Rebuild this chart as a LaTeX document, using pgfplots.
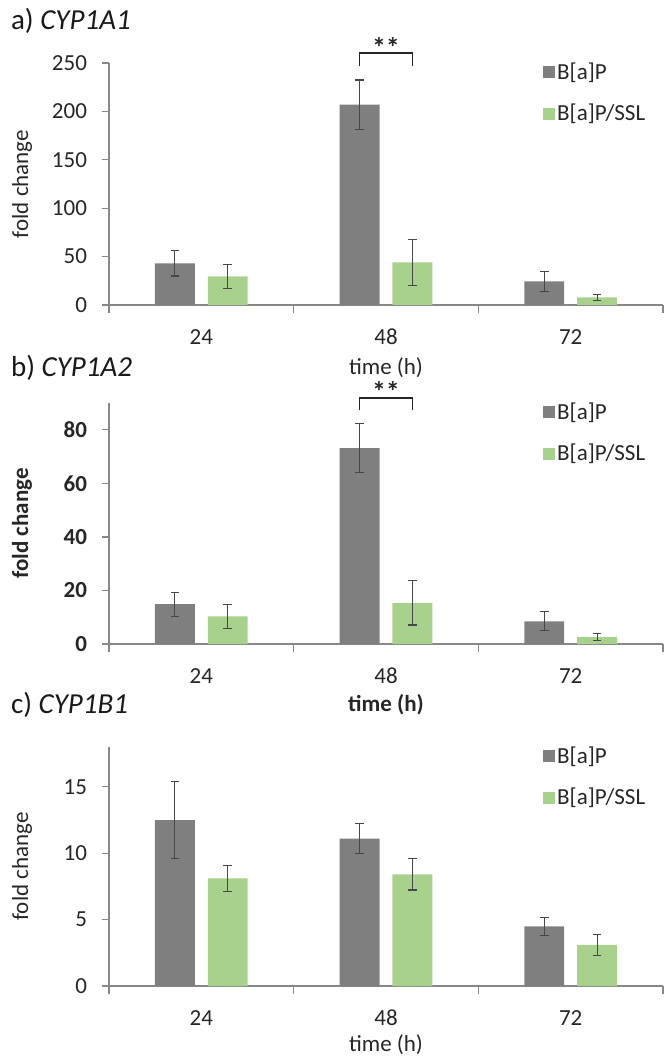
\documentclass[border=0pt]{standalone}
\usepackage{fontspec}
\setmainfont{Carlito}
\usepackage{pgfplots}
\usepackage{pgfplotstable}
\pgfplotsset{compat=1.18}

\definecolor{bargray}{HTML}{7F7F7F}
\definecolor{bargreen}{HTML}{A9D18E}
\definecolor{axisgray}{HTML}{878787}
\definecolor{errgray}{HTML}{474747}

% x = time point index (24, 48, 72 h), y = fold change, e = error
\pgfplotstableread{
x y e
0 43 13
1 207 25.5
2 24.5 10.2
}\aGray
\pgfplotstableread{
x y e
0 29.5 12.8
1 44 23.4
2 8 3.3
}\aGreen
\pgfplotstableread{
x y e
0 14.9 4.5
1 73.2 9.1
2 8.5 3.6
}\bGray
\pgfplotstableread{
x y e
0 10.3 4.55
1 15.4 8.3
2 2.6 1.25
}\bGreen
\pgfplotstableread{
x y e
0 12.5 2.87
1 11.1 1.15
2 4.5 0.69
}\cGray
\pgfplotstableread{
x y e
0 8.1 0.97
1 8.4 1.17
2 3.1 0.78
}\cGreen

\newcommand{\lblfont}{\fontsize{11.5}{13}\selectfont}

\pgfplotsset{
  panel/.style={
    scale only axis, width=277pt,
    xmin=-0.5, xmax=2.5, ymin=0,
    axis lines*=left,
    axis line style={axisgray, line width=0.65pt},
    xtick={0,1,2}, xticklabels={24,48,72},
    minor xtick={-0.5,0.5,1.5,2.5},
    major x tick style={draw=none},
    minor x tick style={axisgray, line width=0.65pt},
    y tick style={axisgray, line width=0.65pt},
    tick align=outside, major tick length=3.5pt, minor tick length=4pt,
    xticklabel shift=5pt, yticklabel shift=4pt,
    ticklabel style={font=\lblfont, text=black!85},
    label style={font=\lblfont, text=black!85},
    /pgf/number format/assume math mode=true,
    ylabel={fold change},
    ylabel style={at={(axis description cs:-0.157,0.5)}, anchor=center},
    xlabel={time (h)},
    legend style={draw=none, fill=none, at={(0.783,1.0)}, anchor=north west,
      yshift=1.5pt, inner sep=0pt, row sep=9pt, font=\lblfont,
      nodes={inner sep=1pt, text=black!85}},
    legend cell align=left,
    clip=false,
  },
  errs/.style={
    error bars/y dir=both, error bars/y explicit,
    error bars/error bar style={errgray, line width=0.55pt},
    error bars/error mark options={errgray, line width=0.55pt, mark size=2.2pt, rotate=90}},
  gbar/.style={ybar, bar width=0.216, bar shift=0pt, fill=bargray, draw=none, errs,
    legend image code/.code={\fill[bargray] (0pt,-3pt) rectangle (6pt,3pt);}},
  vbar/.style={ybar, bar width=0.216, bar shift=0pt, fill=bargreen, draw=none, errs,
    legend image code/.code={\fill[bargreen] (0pt,-3pt) rectangle (6pt,3pt);}},
}

\begin{document}
\begin{tikzpicture}
\useasboundingbox (0,0) rectangle (333pt,-531pt);

% a) CYP1A1
\node[anchor=west, font=\fontsize{14.5}{16}\selectfont, text=black!90] at (2pt,-10.5pt) {a) \textit{CYP1A1}};
\begin{axis}[panel, at={(54.5pt,-152.5pt)}, anchor=south west, height=121pt,
    ymax=250, ytick={0,50,...,250},
    xlabel style={at={(axis description cs:0.5,-0.26)}, anchor=center}]
  \addplot[gbar] table[x expr=\thisrow{x}-0.143, y=y, y error=e] {\aGray};
  \addplot[vbar] table[x expr=\thisrow{x}+0.143, y=y, y error=e] {\aGreen};
  \legend{B[a]P, B[a]P/SSL}
  \draw[black!85, line width=0.6pt] (axis cs:0.857,247) |- (axis cs:1.143,260.3) -- (axis cs:1.143,247);
  \node[font=\fontsize{14}{16}\selectfont\bfseries, text=black!85] at (axis cs:1,266.5) {**};
\end{axis}

% b) CYP1A2
\node[anchor=west, font=\fontsize{14.5}{16}\selectfont, text=black!90] at (2pt,-184pt) {b) \textit{CYP1A2}};
\begin{axis}[panel, at={(54.5pt,-322pt)}, anchor=south west, height=120.5pt,
    ymax=90, ytick={0,20,...,80},
    yticklabel style={font=\lblfont\bfseries},
    ylabel style={font=\lblfont\bfseries},
    xlabel style={at={(axis description cs:0.5,-0.253)}, anchor=center, font=\lblfont\bfseries}]
  \addplot[gbar] table[x expr=\thisrow{x}-0.143, y=y, y error=e] {\bGray};
  \addplot[vbar] table[x expr=\thisrow{x}+0.143, y=y, y error=e] {\bGreen};
  \legend{B[a]P, B[a]P/SSL}
  \draw[black!85, line width=0.6pt] (axis cs:0.857,87.4) |- (axis cs:1.143,91.9) -- (axis cs:1.143,87.4);
  \node[font=\fontsize{14}{16}\selectfont\bfseries, text=black!85] at (axis cs:1,94.3) {**};
\end{axis}

% c) CYP1B1
\node[anchor=west, font=\fontsize{14.5}{16}\selectfont, text=black!90] at (2pt,-352.5pt) {c) \textit{CYP1B1}};
\begin{axis}[panel, at={(54.5pt,-493pt)}, anchor=south west, height=119.5pt,
    ymax=18, ytick={0,5,10,15},
    xlabel style={at={(axis description cs:0.5,-0.247)}, anchor=center}]
  \addplot[gbar] table[x expr=\thisrow{x}-0.143, y=y, y error=e] {\cGray};
  \addplot[vbar] table[x expr=\thisrow{x}+0.143, y=y, y error=e] {\cGreen};
  \legend{B[a]P, B[a]P/SSL}
\end{axis}
\end{tikzpicture}
\end{document}
